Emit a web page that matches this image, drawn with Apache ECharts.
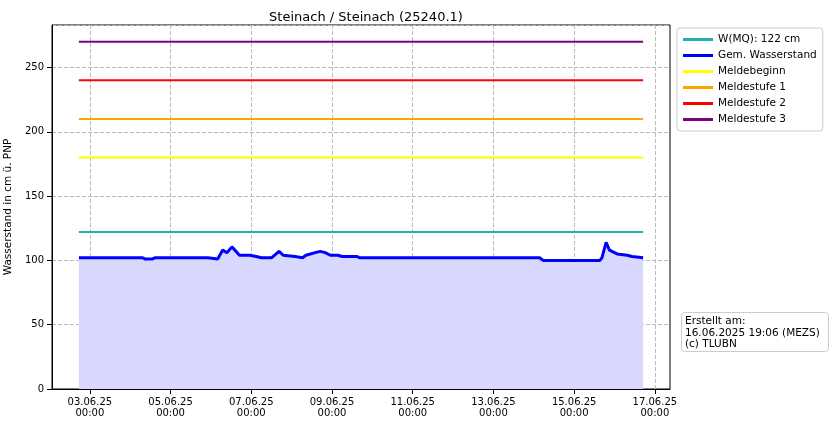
<!DOCTYPE html><html><head><meta charset="utf-8"><script src="https://cdn.jsdelivr.net/npm/echarts@6/dist/echarts.min.js"></script></head><body style="margin:0"><div id="c" style="width:834px;height:426px"></div><script>
const times=["2025-06-02 17:30","2025-06-04 07:30","2025-06-04 09:00","2025-06-04 13:00","2025-06-04 14:40","2025-06-05 22:10","2025-06-06 04:00","2025-06-06 07:00","2025-06-06 09:30","2025-06-06 12:30","2025-06-06 17:00","2025-06-06 23:00","2025-06-07 03:00","2025-06-07 06:00","2025-06-07 12:00","2025-06-07 16:30","2025-06-07 19:00","2025-06-08 02:00","2025-06-08 06:30","2025-06-08 08:30","2025-06-08 09:30","2025-06-08 14:00","2025-06-08 17:00","2025-06-08 20:00","2025-06-08 23:00","2025-06-09 03:30","2025-06-09 06:00","2025-06-09 15:00","2025-06-09 16:30","2025-06-14 03:30","2025-06-14 05:30","2025-06-15 15:20","2025-06-15 16:30","2025-06-15 19:00","2025-06-15 21:00","2025-06-16 01:30","2025-06-16 07:30","2025-06-16 10:30","2025-06-16 17:00"];
const levels=[102,102,101,101,102,102,101,108,106,110.5,104,104,103,102,102,107,104,103,102,104,103,106,107,106,104,104,103,103,102,102,100,100,102,114,108,105,104,103,102];
const thresholds=[["W(MQ): 122 cm",122,"#20b2aa"],["Meldebeginn",180,"#ffff00"],["Meldestufe 1",210,"#ffa500"],["Meldestufe 2",240,"#ff0000"],["Meldestufe 3",270,"#800080"]];
const tickDays=["2025-06-03","2025-06-05","2025-06-07","2025-06-09","2025-06-11","2025-06-13","2025-06-15","2025-06-17"];
const T=s=>{const [d,t]=s.split(" ");const [Y,M,D]=d.split("-").map(Number);const [h,m]=(t||"00:00").split(":").map(Number);return Date.UTC(Y,M-1,D,h,m);};
const xs=times.map(T), t0=xs[0], t1=xs[xs.length-1];
const tickVals=tickDays.map(T);
const p=n=>String(n).padStart(2,"0");
const fmt=v=>{const d=new Date(v);return p(d.getUTCDate())+"."+p(d.getUTCMonth()+1)+"."+String(d.getUTCFullYear()).slice(2)+"\n"+p(d.getUTCHours())+":"+p(d.getUTCMinutes());};
const thr=(n,v,c)=>({name:n,type:'line',symbol:'none',data:[[t0,v],[t1,v]],lineStyle:{color:c,width:2},itemStyle:{color:c},z:3});
const series=[thr(...thresholds[0]),
 {name:"Gem. Wasserstand",type:'line',symbol:'none',data:xs.map((x,i)=>[x,levels[i]]),lineStyle:{color:'#0000ff',width:3},itemStyle:{color:'#0000ff'},areaStyle:{color:'#d8d8ff',opacity:1},z:4},
 ...thresholds.slice(1).map(a=>thr(...a))];
const ch=echarts.init(document.getElementById('c'));
ch.setOption({animation:false,backgroundColor:'#fff',
 title:{text:"Steinach / Steinach (25240.1)",left:361,top:6,textAlign:'center',textStyle:{fontFamily:'DejaVu Sans',fontSize:13,fontWeight:'normal',color:'#000'}},
 grid:{left:52,right:164,top:25,bottom:37,outerBoundsMode:'none',containLabel:false,show:true,borderColor:'#000',borderWidth:1},
 legend:{orient:'vertical',left:677,top:28,itemWidth:30,itemHeight:3,itemGap:5,padding:[6,6,6,6],borderColor:'#ccc',borderWidth:1,borderRadius:3,icon:'rect',textStyle:{fontFamily:'DejaVu Sans',fontSize:10.5,color:'#000'},data:["W(MQ): 122 cm","Gem. Wasserstand","Meldebeginn","Meldestufe 1","Meldestufe 2","Meldestufe 3"]},
 xAxis:{type:'value',min:T("2025-06-02 01:30"),max:T("2025-06-17 09:00"),
  axisLine:{lineStyle:{color:'#000'}},
  axisTick:{show:true,customValues:tickVals,lineStyle:{color:'#000'}},
  axisLabel:{customValues:tickVals,formatter:fmt,color:'#000',fontFamily:'DejaVu Sans',fontSize:10,lineHeight:11},
  splitLine:{show:true,lineStyle:{type:'dashed',color:'#bbb'}}},
 yAxis:{type:'value',min:0,max:283,interval:50,name:"Wasserstand in cm ü. PNP",nameLocation:'middle',nameGap:35,nameTextStyle:{fontFamily:'DejaVu Sans',fontSize:10.5,color:'#000'},
  axisLine:{show:true,lineStyle:{color:'#000'}},axisTick:{show:true},
  axisLabel:{showMaxLabel:false,color:'#000',fontFamily:'DejaVu Sans',fontSize:10},
  splitLine:{show:true,lineStyle:{type:'dashed',color:'#bbb'}}},
 graphic:[{type:'rect',left:681,top:312,shape:{width:147,height:39,r:3},style:{fill:'#fff',stroke:'#ccc'}},
  {type:'text',left:685,top:316,style:{text:"Erstellt am:\n16.06.2025 19:06 (MEZS)\n(c) TLUBN",fontFamily:'DejaVu Sans',fontSize:10.5,lineHeight:11.5,fill:'#000'}}],
 series});
</script></body></html>
